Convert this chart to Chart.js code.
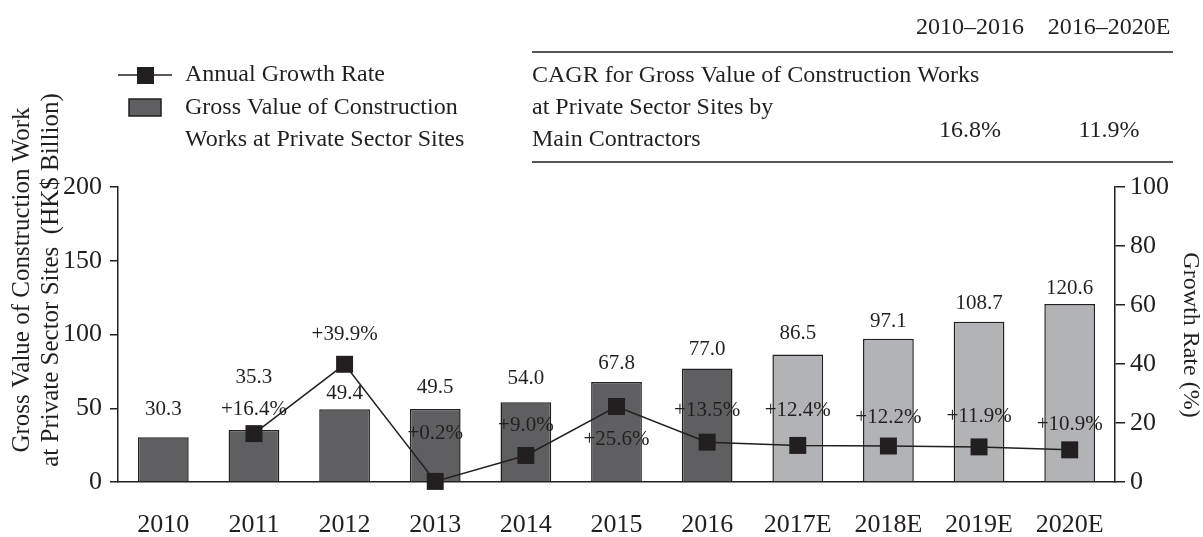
<!DOCTYPE html>
<html>
<head>
<meta charset="utf-8">
<script src="https://cdn.jsdelivr.net/npm/chart.js@4.4.1/dist/chart.umd.min.js"></script>
<style>
  html, body { margin: 0; padding: 0; background: #ffffff; }
  #wrap { width: 1203px; height: 537px; position: relative; }
</style>
</head>
<body>
<div id="wrap"><canvas id="c" width="1203" height="537"></canvas></div>
<script>
// ---- data ----
const categories = ['2010', '2011', '2012', '2013', '2014', '2015', '2016', '2017E', '2018E', '2019E', '2020E'];
const grossValue = [30.3, 35.3, 49.4, 49.5, 54.0, 67.8, 77.0, 86.5, 97.1, 108.7, 120.6];
const growthRate = [null, 16.4, 39.9, 0.2, 9.0, 25.6, 13.5, 12.4, 12.2, 11.9, 10.9];
const estimateFlags = [false, false, false, false, false, false, false, true, true, true, true];
const leftTicks = [0, 50, 100, 150, 200];
const rightTicks = [0, 20, 40, 60, 80, 100];
const cagrPeriods = ['2010–2016', '2016–2020E'];
const cagrValues = ['16.8%', '11.9%'];
const cagrLabelLines = ['CAGR for Gross Value of Construction Works', 'at Private Sector Sites by', 'Main Contractors'];
const legendLine = 'Annual Growth Rate';
const legendBarLines = ['Gross Value of Construction', 'Works at Private Sector Sites'];
const leftTitleLines = ['Gross Value of Construction Work', 'at Private Sector Sites  (HK$ Billion)'];
const rightTitle = 'Growth Rate (%)';

// ---- styles ----
const INK = '#231f20';
const DARK = '#5f5f61';
const LIGHT = '#b2b3b6';
const FAMILY = '"Liberation Serif", "Times New Roman", serif';
Chart.defaults.font.family = FAMILY;
Chart.defaults.color = INK;

// label placement (offsets from bar top / marker centre, px)
const barLabelOffset = [-28, -52, -16, -22, -24, -19, -19, -21, -17, -18, -16];
const growthLabelOffset = [0, -24, -30, -48, -30, 33, -32, -35, -29, -30, -25];

const labelPlugin = {
  id: 'valueLabels',
  afterDatasetsDraw(chart) {
    const ctx = chart.ctx;
    ctx.save();
    ctx.font = '21px ' + FAMILY;
    ctx.fillStyle = INK;
    ctx.textAlign = 'center';
    ctx.textBaseline = 'middle';
    const barMeta = chart.getDatasetMeta(0);
    barMeta.data.forEach((el, i) => {
      ctx.fillText(grossValue[i].toFixed(1), el.x, el.y + barLabelOffset[i]);
    });
    const lineMeta = chart.getDatasetMeta(1);
    lineMeta.data.forEach((el, i) => {
      const v = growthRate[i];
      if (v === null) return;
      ctx.fillText('+' + v.toFixed(1) + '%', el.x, el.y + growthLabelOffset[i]);
    });
    ctx.restore();
  }
};

const decorPlugin = {
  id: 'decor',
  afterDraw(chart) {
    const ctx = chart.ctx;
    ctx.save();
    ctx.fillStyle = INK;
    ctx.strokeStyle = INK;
    ctx.lineWidth = 1.5;

    // legend
    ctx.beginPath();
    ctx.moveTo(118, 75); ctx.lineTo(172, 75);
    ctx.stroke();
    ctx.fillRect(137, 67, 17, 17);
    ctx.fillStyle = DARK;
    ctx.fillRect(129, 99, 32, 17);
    ctx.strokeRect(129, 99, 32, 17);
    ctx.fillStyle = INK;
    ctx.font = '24px ' + FAMILY;
    ctx.textAlign = 'left';
    ctx.textBaseline = 'middle';
    ctx.fillText(legendLine, 185, 75);
    ctx.fillText(legendBarLines[0], 185, 108);
    ctx.fillText(legendBarLines[1], 185, 140);

    // CAGR table
    ctx.beginPath();
    ctx.moveTo(532, 52); ctx.lineTo(1173, 52);
    ctx.moveTo(532, 162); ctx.lineTo(1173, 162);
    ctx.stroke();
    ctx.fillText(cagrLabelLines[0], 532, 76);
    ctx.fillText(cagrLabelLines[1], 532, 108);
    ctx.fillText(cagrLabelLines[2], 532, 140);
    ctx.textAlign = 'center';
    const colX = [970, 1109];
    cagrPeriods.forEach((p, i) => ctx.fillText(p, colX[i], 28));
    cagrValues.forEach((v, i) => ctx.fillText(v, colX[i], 131));

    // axis titles
    ctx.font = '25px ' + FAMILY;
    ctx.save();
    ctx.translate(22, 280);
    ctx.rotate(-Math.PI / 2);
    ctx.fillText(leftTitleLines[0], 0, 0);
    ctx.restore();
    ctx.save();
    ctx.translate(51, 280);
    ctx.rotate(-Math.PI / 2);
    ctx.fillText(leftTitleLines[1], 0, 0);
    ctx.restore();
    ctx.font = '24px ' + FAMILY;
    ctx.save();
    ctx.translate(1190, 335);
    ctx.rotate(Math.PI / 2);
    ctx.fillText(rightTitle, 0, 0);
    ctx.restore();

    ctx.restore();
  }
};

new Chart(document.getElementById('c'), {
  data: {
    labels: categories,
    datasets: [
      {
        type: 'bar',
        data: grossValue,
        yAxisID: 'y',
        order: 1,
        backgroundColor: estimateFlags.map(e => e ? LIGHT : DARK),
        borderColor: INK,
        borderWidth: 1.5,
        categoryPercentage: 1.0,
        barPercentage: 0.56
      },
      {
        type: 'line',
        data: growthRate,
        yAxisID: 'y1',
        order: 0,
        clip: false,
        borderColor: INK,
        borderWidth: 1.5,
        tension: 0,
        pointStyle: 'rect',
        pointRadius: 12,
        pointBorderWidth: 0,
        pointBackgroundColor: INK,
        pointBorderColor: INK
      }
    ]
  },
  options: {
    responsive: false,
    animation: false,
    events: [],
    layout: { padding: { left: 0, right: 0, top: 187, bottom: 0 } },
    plugins: { legend: { display: false }, tooltip: { enabled: false } },
    scales: {
      x: {
        grid: { display: false },
        border: { display: true, color: INK, width: 1.5 },
        ticks: { font: { size: 26 }, color: INK, padding: 20, maxRotation: 0, autoSkip: false },
        afterFit(scale) { scale.height = 55; }
      },
      y: {
        position: 'left',
        min: 0, max: 200,
        afterBuildTicks(scale) { scale.ticks = leftTicks.map(v => ({ value: v })); },
        grid: { display: true, drawOnChartArea: false, drawTicks: true, tickLength: 8, color: INK, lineWidth: 1.5 },
        border: { display: true, color: INK, width: 1.5 },
        ticks: { font: { size: 26 }, color: INK, padding: 8 },
        afterFit(scale) { scale.width = 118; }
      },
      y1: {
        position: 'right',
        min: 0, max: 100,
        afterBuildTicks(scale) { scale.ticks = rightTicks.map(v => ({ value: v })); },
        grid: { display: true, drawOnChartArea: false, drawTicks: true, tickLength: 10, color: INK, lineWidth: 1.5 },
        border: { display: true, color: INK, width: 1.5 },
        ticks: { font: { size: 26 }, color: INK, padding: 5 },
        afterFit(scale) { scale.width = 88; }
      }
    }
  },
  plugins: [labelPlugin, decorPlugin]
});
</script>
</body>
</html>
